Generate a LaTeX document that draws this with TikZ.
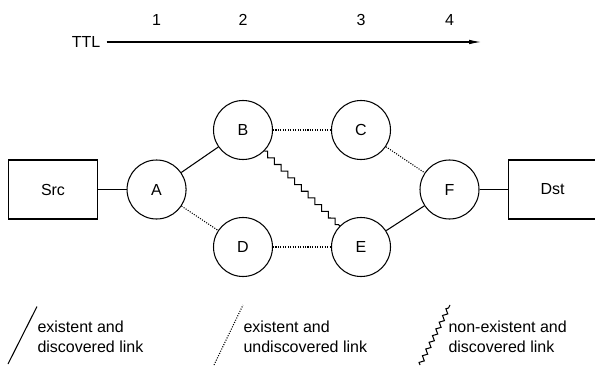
\documentclass[tikz,border=0pt]{standalone}
\usepackage{fontspec}
\setmainfont{Liberation Sans}
\usetikzlibrary{positioning, arrows.meta, decorations.pathmorphing}
\tikzset{
  router/.style={
    draw,
    circle,
    minimum size=1.18cm,
    inner sep=0pt
  },
  host/.style={
    draw,
    rectangle,
    minimum width=1.78cm,
    minimum height=1.18cm
  },
  known/.style={
    line width=0.6pt
  },
  unseen/.style={
    line width=0.6pt,
    dash pattern=on 0.6pt off 0.8pt
  },
  bogus/.style={
    line width=0.6pt,
    decorate,
    decoration={zigzag, segment length=0.19cm, amplitude=0.047cm}
  },
  legend/.style={
    anchor=west,
    align=left,
    inner sep=0pt
  }
}

\begin{document}
\begin{tikzpicture}[line width=0.6pt, every node/.style={font=\fontsize{9.1}{11.3}\selectfont}]
        \useasboundingbox (0,0) rectangle (11.9,7.3);

        % hosts and routers
        \node[host] (src) at (1.06,3.51) {Src};
        \node[router, right=0.57cm of src] (A) {A};
        \node[router] (B) at (4.86,4.70) {B};
        \node[router] (C) at (7.22,4.70) {C};
        \node[router] (D) at (4.86,2.36) {D};
        \node[router] (E) at (7.22,2.36) {E};
        \node[router] (F) at (8.99,3.51) {F};
        \node[host, right=0.56cm of F] (dst) {Dst};

        % TTL axis, one hop number above each column
        \node (ttl) at (1.72,6.46) {TTL};
        \coordinate (ttlend) at (9.62,6.46);
        \draw[-{Latex[length=6.8pt, width=2.6pt]}] (ttl) -- (ttlend);
        \coordinate (hops) at (0,6.9);
        \foreach \n/\r in {1/A,2/B,3/C,4/F}
          \node (hop\n) at (\r |- hops) {\n};

        % links
        \draw[known] (src) -- (A);
        \draw[known] (A) -- (B);
        \draw[known] (E) -- (F);
        \draw[known] (F) -- (dst);
        \draw[unseen] (A) -- (D);
        \draw[unseen] (B) -- (C);
        \draw[unseen] (D) -- (E);
        \draw[unseen] (C) -- (F);
        \draw[bogus] (B) -- (E);

        % legend
        \coordinate (k1a) at (0.16,0.02);
        \coordinate (k1b) at (0.74,1.17);
        \draw[known] (k1a) -- (k1b);
        \node[legend] (key1) at (0.74,0.57) {existent and\\discovered link};

        \coordinate (k2a) at (4.28,0);
        \coordinate (k2b) at (4.86,1.2);
        \draw[unseen] (k2a) -- (k2b);
        \node[legend] (key2) at (4.86,0.57) {existent and\\undiscovered link};

        \coordinate (k3a) at (8.4,0);
        \coordinate (k3b) at (9.0,1.2);
        \draw[bogus, decoration={segment length=0.15cm, amplitude=0.04cm}] (k3a) -- (k3b);
        \node[legend] (key3) at (8.96,0.57) {non-existent and\\discovered link};
      \end{tikzpicture}
\end{document}
